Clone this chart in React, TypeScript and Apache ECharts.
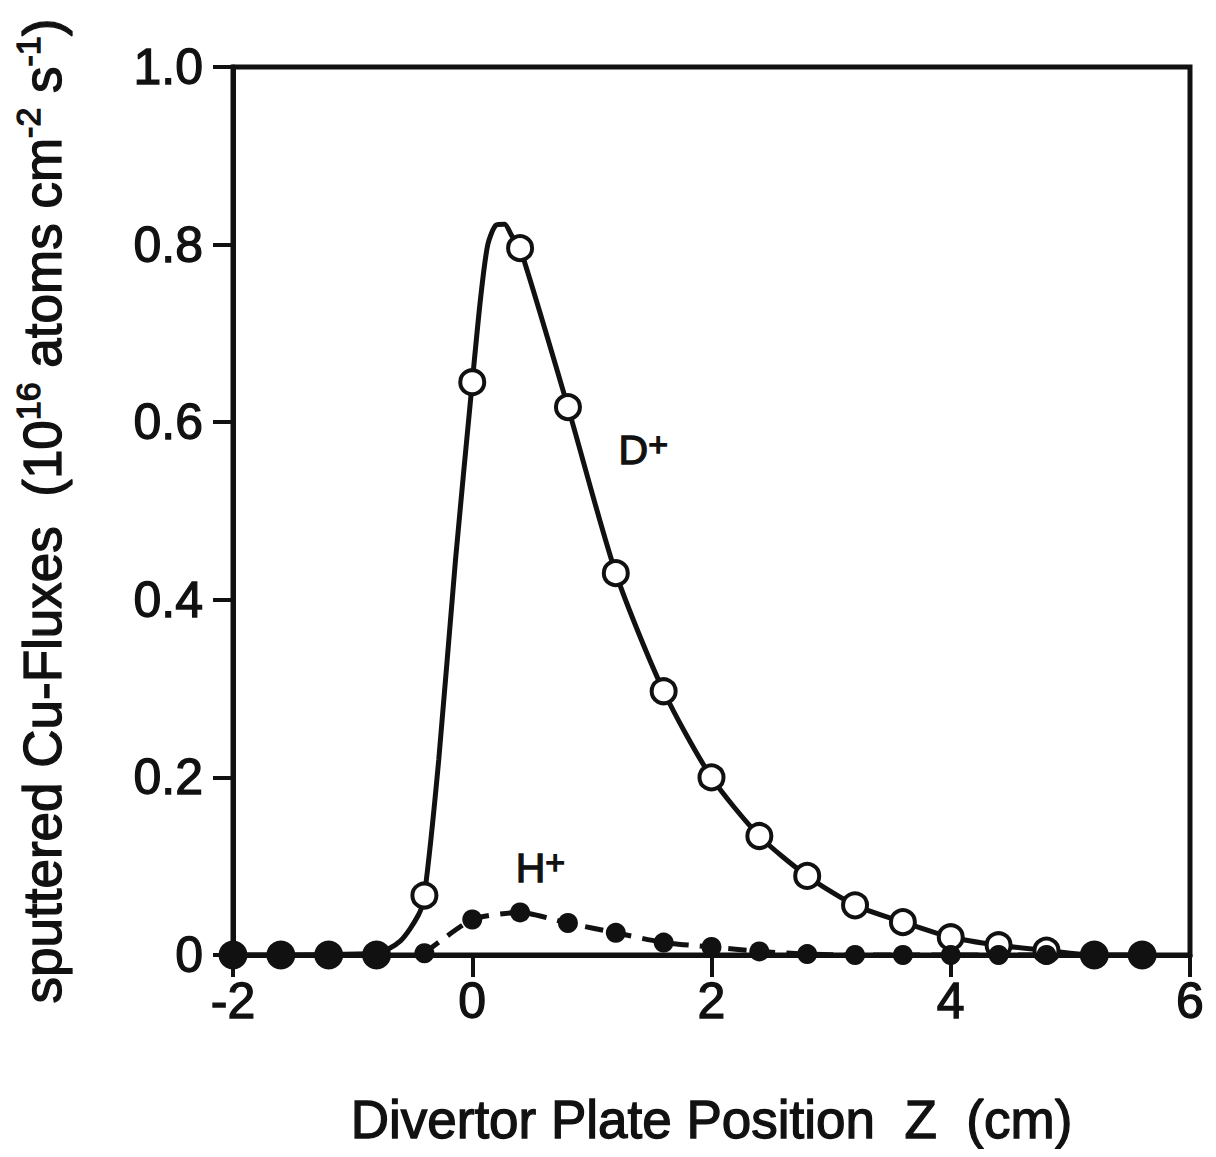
import React, { useEffect, useRef } from "react";
import * as echarts from "echarts";

// Divertor plate position Z (cm) of the measured points
const zPoints = [-2, -1.6, -1.2, -0.8, -0.4, 0, 0.4, 0.8, 1.2, 1.6, 2.0, 2.4, 2.8, 3.2, 3.6, 4.0, 4.4, 4.8, 5.2, 5.6];
// D+ sputtered Cu flux (10^16 atoms cm^-2 s^-1)
const dFlux = [0, 0, 0, 0, 0.067, 0.645, 0.796, 0.617, 0.43, 0.297, 0.2, 0.134, 0.089, 0.056, 0.037, 0.02, 0.011, 0.005, 0, 0];
// D+ fitted curve
const dCurveZ = [-2, -0.8, -0.6, -0.45, -0.4, -0.28, -0.14, 0, 0.07, 0.13, 0.2, 0.27, 0.33, 0.4, 0.8, 1.2, 1.6, 2.0, 2.4, 2.8, 3.2, 3.6, 4.0, 4.4, 4.8, 5.2, 5.6];
const dCurveFlux = [0, 0.002, 0.016, 0.045, 0.067, 0.22, 0.445, 0.645, 0.74, 0.8, 0.822, 0.823, 0.81, 0.796, 0.617, 0.43, 0.297, 0.2, 0.134, 0.089, 0.056, 0.037, 0.02, 0.011, 0.005, 0, 0];
// H+ points
const hZ = [-0.4, 0, 0.4, 0.8, 1.2, 1.6, 2.0, 2.4, 2.8, 3.2, 3.6, 4.0, 4.4, 4.8];
const hFlux = [0.002, 0.04, 0.048, 0.036, 0.025, 0.014, 0.009, 0.004, 0.001, 0, 0, 0, 0, 0];
// axis ticks
const xTicks = [-2, 0, 2, 4, 6];
const yTicks = [0, 0.2, 0.4, 0.6, 0.8, 1.0];
// series labels and their positions in data units
const labelNames = ["D", "H"];
const labelZ = [1.43, 0.57];
const labelFlux = [0.569, 0.098];

const INK = "#111111";
const FONT = "'Liberation Sans', Arial, Helvetica, sans-serif";
const THICK = { textBorderColor: INK, textBorderWidth: 1.3 };

export default function App() {
  const ref = useRef<HTMLDivElement>(null);
  useEffect(() => {
    if (!ref.current) return;
    const chart = echarts.init(ref.current, undefined, { renderer: "svg" });
    const dOpen = zPoints
      .map((z, i) => [z, dFlux[i]])
      .filter((p) => p[1] > 0);
    const dZero = zPoints
      .map((z, i) => [z, dFlux[i]])
      .filter((p) => p[1] === 0);
    chart.setOption({
      animation: false,
      backgroundColor: "#ffffff",
      grid: {
        left: 233,
        right: 26,
        top: 67,
        bottom: 202,
        show: true,
        borderColor: INK,
        borderWidth: 5,
        backgroundColor: "transparent",
      },
      xAxis: {
        type: "value",
        min: xTicks[0],
        max: xTicks[xTicks.length - 1],
        interval: 2,
        axisLine: { show: true, onZero: false, lineStyle: { color: INK, width: 5 } },
        axisTick: { show: true, inside: false, length: 22, lineStyle: { color: INK, width: 4 } },
        splitLine: { show: false },
        axisLabel: { color: INK, fontSize: 50, fontFamily: FONT, margin: 21, ...THICK },
        name: "Divertor Plate Position  Z  (cm)",
        nameLocation: "middle",
        nameGap: 138,
        nameTextStyle: { color: INK, fontSize: 53, fontFamily: FONT, ...THICK },
      },
      yAxis: {
        type: "value",
        min: yTicks[0],
        max: yTicks[yTicks.length - 1],
        interval: 0.2,
        axisLine: { show: true, onZero: false, lineStyle: { color: INK, width: 5 } },
        axisTick: { show: true, inside: false, length: 20, lineStyle: { color: INK, width: 4 } },
        splitLine: { show: false },
        axisLabel: {
          color: INK,
          fontSize: 50,
          fontFamily: FONT,
          margin: 30,
          ...THICK,
          formatter: (v: number) => (v === 0 ? "0" : v.toFixed(1)),
        },
        name: "sputtered Cu-Fluxes  (10{sup|16} atoms cm{sup|-2} s{sup|-1})",
        nameLocation: "middle",
        nameGap: 160,
        nameTextStyle: {
          color: INK,
          fontSize: 53,
          fontFamily: FONT,
          lineHeight: 62,
          ...THICK,
          rich: {
            sup: { fontSize: 34, fontFamily: FONT, color: INK, verticalAlign: "top", lineHeight: 32, ...THICK },
          },
        },
      },
      series: [
        {
          name: "D+ curve",
          type: "line",
          data: dCurveZ.map((z, i) => [z, dCurveFlux[i]]),
          smooth: 0.25,
          showSymbol: false,
          symbol: "none",
          lineStyle: { color: INK, width: 5 },
          z: 2,
        },
        {
          name: "D+",
          type: "scatter",
          data: dOpen,
          symbol: "circle",
          symbolSize: 24,
          itemStyle: { color: "#ffffff", borderColor: INK, borderWidth: 4, opacity: 1 },
          z: 3,
        },
        {
          name: "D+ zero",
          type: "scatter",
          data: dZero,
          symbol: "circle",
          symbolSize: 29,
          itemStyle: { color: INK, opacity: 1 },
          z: 3,
        },
        {
          name: "H+",
          type: "line",
          data: hZ.map((z, i) => [z, hFlux[i]]),
          smooth: 0.2,
          symbol: "circle",
          symbolSize: 20,
          showSymbol: true,
          itemStyle: { color: INK, borderWidth: 0 },
          lineStyle: { color: INK, width: 5, type: [18, 11] },
          z: 4,
        },
        {
          name: "labels",
          type: "scatter",
          symbolSize: 0,
          itemStyle: { color: INK, opacity: 1 },
          data: labelNames.map((n, i) => ({ value: [labelZ[i], labelFlux[i]], name: n })),
          label: {
            show: true,
            position: "inside",
            opacity: 1,
            formatter: (p: any) => p.name + "{sup|+}",
            color: INK,
            fontSize: 41,
            fontFamily: FONT,
            lineHeight: 46,
            ...THICK,
            rich: { sup: { fontSize: 34, fontFamily: FONT, color: INK, verticalAlign: "top", lineHeight: 30, ...THICK } },
          },
          z: 5,
        },
      ],
    });
    return () => chart.dispose();
  }, []);
  return <div ref={ref} style={{ width: 1216, height: 1157, margin: -8 }} />;
}
